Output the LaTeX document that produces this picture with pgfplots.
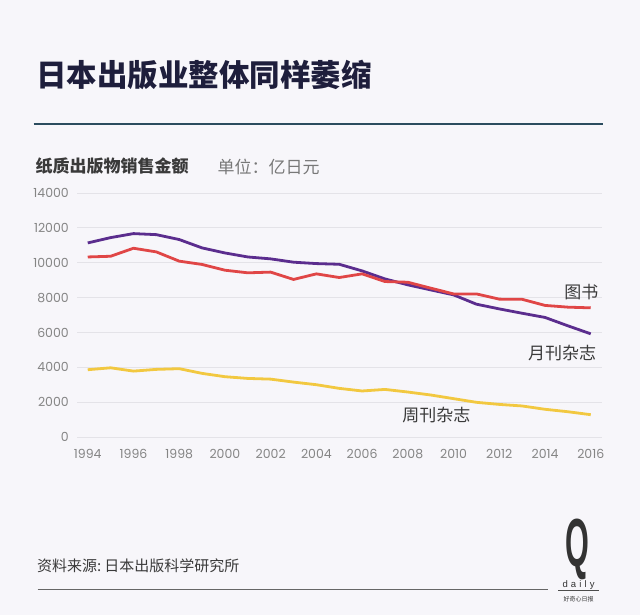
\documentclass[border=0pt]{standalone}
\usepackage{pgfplots}
\pgfplotsset{compat=1.18}
\usepackage{pgfplotstable}
\usepackage{fontspec}
\setmainfont{Poppins}
\newfontfamily\cjk{Noto Sans CJK SC}
\newfontfamily\numfont{Poppins}
\newfontfamily\qfont{Liberation Sans}
\definecolor{bg}{HTML}{F7F6FA}
\definecolor{titlec}{HTML}{1E1E3C}
\definecolor{rulec}{HTML}{2B4C5E}
\definecolor{cpurple}{HTML}{5B2D8E}
\definecolor{cred}{HTML}{E04646}
\definecolor{cyellow}{HTML}{F2C840}
\definecolor{gridc}{HTML}{E4E3E8}
\definecolor{tickc}{HTML}{858585}
\definecolor{labc}{HTML}{3A3A3A}
\pgfplotstableread{
year monthly books weekly
1994 11135 10330 3860
1995 11440 10370 3970
1996 11670 10830 3780
1997 11610 10620 3880
1998 11330 10090 3920
1999 10850 9900 3650
2000 10560 9570 3460
2001 10330 9420 3360
2002 10220 9460 3320
2003 10030 9040 3150
2004 9950 9360 3000
2005 9910 9150 2790
2006 9530 9360 2640
2007 9070 8920 2730
2008 8730 8880 2580
2009 8440 8540 2410
2010 8155 8210 2200
2011 7620 8210 1990
2012 7350 7910 1870
2013 7100 7900 1780
2014 6860 7550 1590
2015 6380 7450 1450
2016 5920 7410 1280
}\datatable
\begin{document}
\begin{tikzpicture}[x=1pt,y=1pt]
\fill[bg] (0,0) rectangle (640,615);
% title
\node[anchor=west, text=titlec, inner sep=0pt] at (36,540) {\cjk\bfseries\fontsize{30.5}{32}\selectfont 日本出版业整体同样萎缩};
\draw[rulec, line width=1.8pt] (33.5,491.3) -- (603,491.3);
\node[anchor=west, text=labc, inner sep=0pt] at (35.5,448.5) {\cjk\bfseries\fontsize{17}{19}\selectfont 纸质出版物销售金额};
\node[anchor=west, text=tickc!90!black, inner sep=0pt] at (217.5,448.5) {\cjk\fontsize{17}{19}\selectfont 单位：亿日元};
\begin{axis}[
  at={(77pt,178pt)}, anchor=south west,
  scale only axis, width=524.7pt, height=244pt,
  xmin=1993.53, xmax=2016.48, ymin=0, ymax=14000,
  axis line style={draw=none},
  major tick length=0pt,
  ymajorgrids, grid style={gridc, line width=0.8pt},
  xtick={1994,1996,...,2016},
  ytick={0,2000,...,14000},
  scaled ticks=false,
  /pgf/number format/assume math mode=true,
  xticklabel={\pgfmathprintnumber[1000 sep={}]{\tick}},
  yticklabel={\pgfmathprintnumber[1000 sep={}, fixed]{\tick}},
  ticklabel style={font=\numfont\fontsize{12.5}{13}\selectfont, text=tickc},
  yticklabel style={anchor=east, inner sep=0pt, xshift=-8pt},
  xticklabel style={anchor=north, inner sep=0pt, yshift=-12.5pt},
  clip=false,
]
\addplot[cpurple, line width=2.8pt, line join=round] table[x=year, y=monthly] {\datatable};
\addplot[cred, line width=2.8pt, line join=round] table[x=year, y=books] {\datatable};
\addplot[cyellow, line width=2.8pt, line join=round] table[x=year, y=weekly] {\datatable};
\end{axis}
\node[text=labc, inner sep=0pt] at (581.3,323) {\cjk\fontsize{17}{19}\selectfont 图书};
\node[text=labc, inner sep=0pt] at (562,262) {\cjk\fontsize{17}{19}\selectfont 月刊杂志};
\node[text=labc, inner sep=0pt] at (436.4,200) {\cjk\fontsize{17}{19}\selectfont 周刊杂志};
% footer
\node[anchor=west, text=labc, inner sep=0pt] at (37,49.3) {\cjk\fontsize{15}{17}\selectfont 资料来源:\hspace{0.2em}日本出版科学研究所};
\draw[black!60, line width=0.9pt] (37.5,25.6) -- (548,25.6);
\node[text=black!80, inner sep=0pt, xscale=0.45] at (577,66) {\qfont\bfseries\fontsize{68}{70}\selectfont Q};
\node[text=black!80, inner sep=0pt] at (578.6,29.7) {\qfont\fontsize{9.5}{10}\selectfont d\,\,a\,\,i\,\,l\,\,y};
\draw[black!70, line width=0.5pt] (558,25) -- (599,25);
\node[text=black!80, inner sep=0pt] at (578.6,15.4) {\cjk\fontsize{6}{7}\selectfont 好奇心日报};
\end{tikzpicture}
\end{document}
